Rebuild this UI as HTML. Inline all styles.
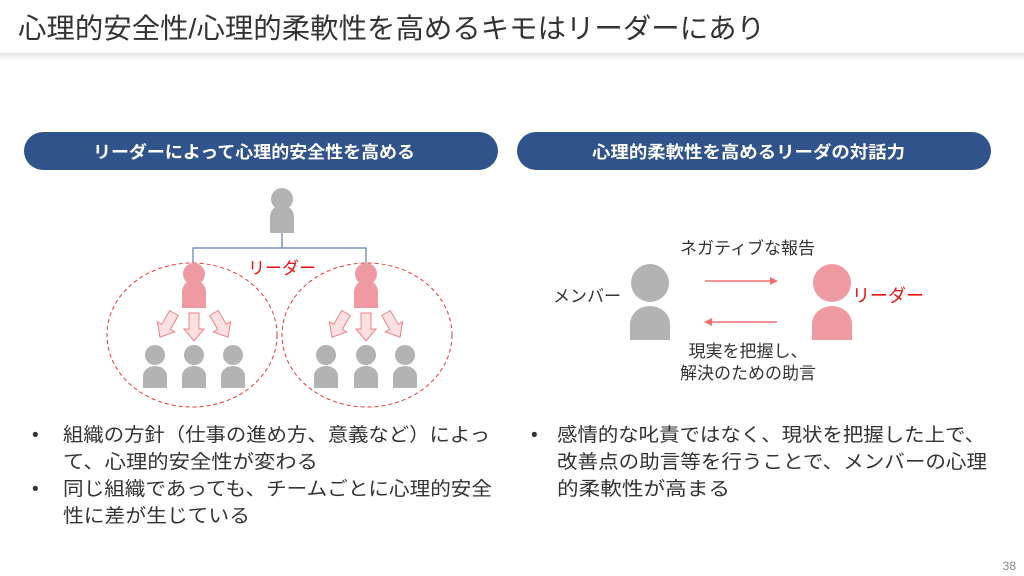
<!DOCTYPE html>
<html><head><meta charset="utf-8"><style>
html,body{margin:0;padding:0;width:1024px;height:576px;overflow:hidden;background:#fff}
svg{display:block}
text{font-family:"Liberation Sans","Noto Sans CJK JP",sans-serif}
</style></head><body>
<svg width="1024" height="576" viewBox="0 0 1024 576" xmlns="http://www.w3.org/2000/svg">
<defs>
<linearGradient id="sh" x1="0" y1="0" x2="0" y2="1"><stop offset="0" stop-color="#e4e4e4"/><stop offset="1" stop-color="#fff"/></linearGradient>
<g id="p"><circle cx="0" cy="-14" r="11"/><path d="M-12 20 V4 A12 12 0 0 1 12 4 V20 Z"/></g>
<g id="ps"><circle cx="0" cy="-13" r="10"/><path d="M-12 20 V8 A12 10 0 0 1 12 8 V20 Z"/></g>
<path id="da" d="M-5 0 H5 V16 H10 L0 28 L-10 16 H-5 Z" fill="#FCE0E2" stroke="#F08080" stroke-width="1"/>
<marker id="ah" markerWidth="8" markerHeight="8" refX="7" refY="4" orient="auto" markerUnits="userSpaceOnUse"><path d="M0 0 L8 4 L0 8 Z" fill="#F07070"/></marker>
</defs>
<rect x="0" y="0" width="1024" height="53" fill="#fff"/>
<rect x="0" y="53" width="1024" height="8" fill="url(#sh)"/>
<text x="18" y="38" font-size="28" fill="#333" textLength="747" lengthAdjust="spacingAndGlyphs">心理的安全性/心理的柔軟性を高めるキモはリーダーにあり</text>

<rect x="24" y="132" width="474" height="38" rx="19" fill="#2F538A"/>
<text x="93" y="158" font-size="17" font-weight="bold" fill="#fff" textLength="322" lengthAdjust="spacingAndGlyphs">リーダーによって心理的安全性を高める</text>
<rect x="517" y="132" width="474" height="38" rx="19" fill="#2F538A"/>
<text x="592" y="158" font-size="17" font-weight="bold" fill="#fff" textLength="313" lengthAdjust="spacingAndGlyphs">心理的柔軟性を高めるリーダの対話力</text>

<g fill="#B3B3B3"><use href="#p" x="282" y="213"/></g>
<path d="M282 233 V248 M193 263 V248 H366 V263" stroke="#5B7FAE" stroke-width="1.2" fill="none"/>
<ellipse cx="192" cy="335" rx="85" ry="72" fill="none" stroke="#EE3333" stroke-width="1" stroke-dasharray="4,3"/>
<ellipse cx="367" cy="335" rx="85" ry="72" fill="none" stroke="#EE3333" stroke-width="1" stroke-dasharray="4,3"/>
<text x="282" y="274" font-size="17" fill="#EE1111" text-anchor="middle">リーダー</text>
<g fill="#EF9AA3"><use href="#p" x="194" y="288"/><use href="#p" x="366" y="288"/></g>
<use href="#da" x="194" y="313"/>
<use href="#da" transform="translate(174 313) rotate(30)"/>
<use href="#da" transform="translate(214 313) rotate(-30)"/>
<use href="#da" x="366" y="313"/>
<use href="#da" transform="translate(346 313) rotate(30)"/>
<use href="#da" transform="translate(386 313) rotate(-30)"/>
<g fill="#B3B3B3">
<use href="#ps" x="155" y="368"/><use href="#ps" x="194" y="368"/><use href="#ps" x="233" y="368"/>
<use href="#ps" x="326" y="368"/><use href="#ps" x="366" y="368"/><use href="#ps" x="405" y="368"/>
</g>

<circle cx="650" cy="283" r="19" fill="#B3B3B3"/>
<path d="M630 340 V324 A20 18 0 0 1 670 324 V340 Z" fill="#B3B3B3"/>
<circle cx="832" cy="283" r="19" fill="#EF9AA3"/>
<path d="M812 340 V324 A20 18 0 0 1 852 324 V340 Z" fill="#EF9AA3"/>
<line x1="705" y1="281" x2="777" y2="281" stroke="#F07070" stroke-width="1.5" marker-end="url(#ah)"/>
<line x1="777" y1="322" x2="705" y2="322" stroke="#F07070" stroke-width="1.5" marker-end="url(#ah)"/>
<text x="680" y="254" font-size="17" fill="#333" textLength="135" lengthAdjust="spacingAndGlyphs">ネガティブな報告</text>
<text x="553" y="302" font-size="17" fill="#333">メンバー</text>
<text x="852" y="302" font-size="18" fill="#EE1111">リーダー</text>
<text x="748" y="357" font-size="17" fill="#333" text-anchor="middle">現実を把握し、</text>
<text x="748" y="379" font-size="17" fill="#333" text-anchor="middle">解決のための助言</text>

<g font-size="19" fill="#333" lengthAdjust="spacingAndGlyphs">
<text x="32" y="441">•</text>
<text x="63" y="441" textLength="427" lengthAdjust="spacingAndGlyphs">組織の方針（仕事の進め方、意義など）によっ</text>
<text x="63" y="468" textLength="255" lengthAdjust="spacingAndGlyphs">て、心理的安全性が変わる</text>
<text x="32" y="495">•</text>
<text x="63" y="495" textLength="429" lengthAdjust="spacingAndGlyphs">同じ組織であっても、チームごとに心理的安全</text>
<text x="63" y="522" textLength="187" lengthAdjust="spacingAndGlyphs">性に差が生じている</text>
<text x="531" y="441">•</text>
<text x="557" y="441" textLength="428" lengthAdjust="spacingAndGlyphs">感情的な叱責ではなく、現状を把握した上で、</text>
<text x="557" y="468" textLength="430" lengthAdjust="spacingAndGlyphs">改善点の助言等を行うことで、メンバーの心理</text>
<text x="557" y="495" textLength="173" lengthAdjust="spacingAndGlyphs">的柔軟性が高まる</text>
</g>
<text x="1016" y="570" font-size="12" fill="#888" text-anchor="end">38</text>
</svg>
</body></html>
